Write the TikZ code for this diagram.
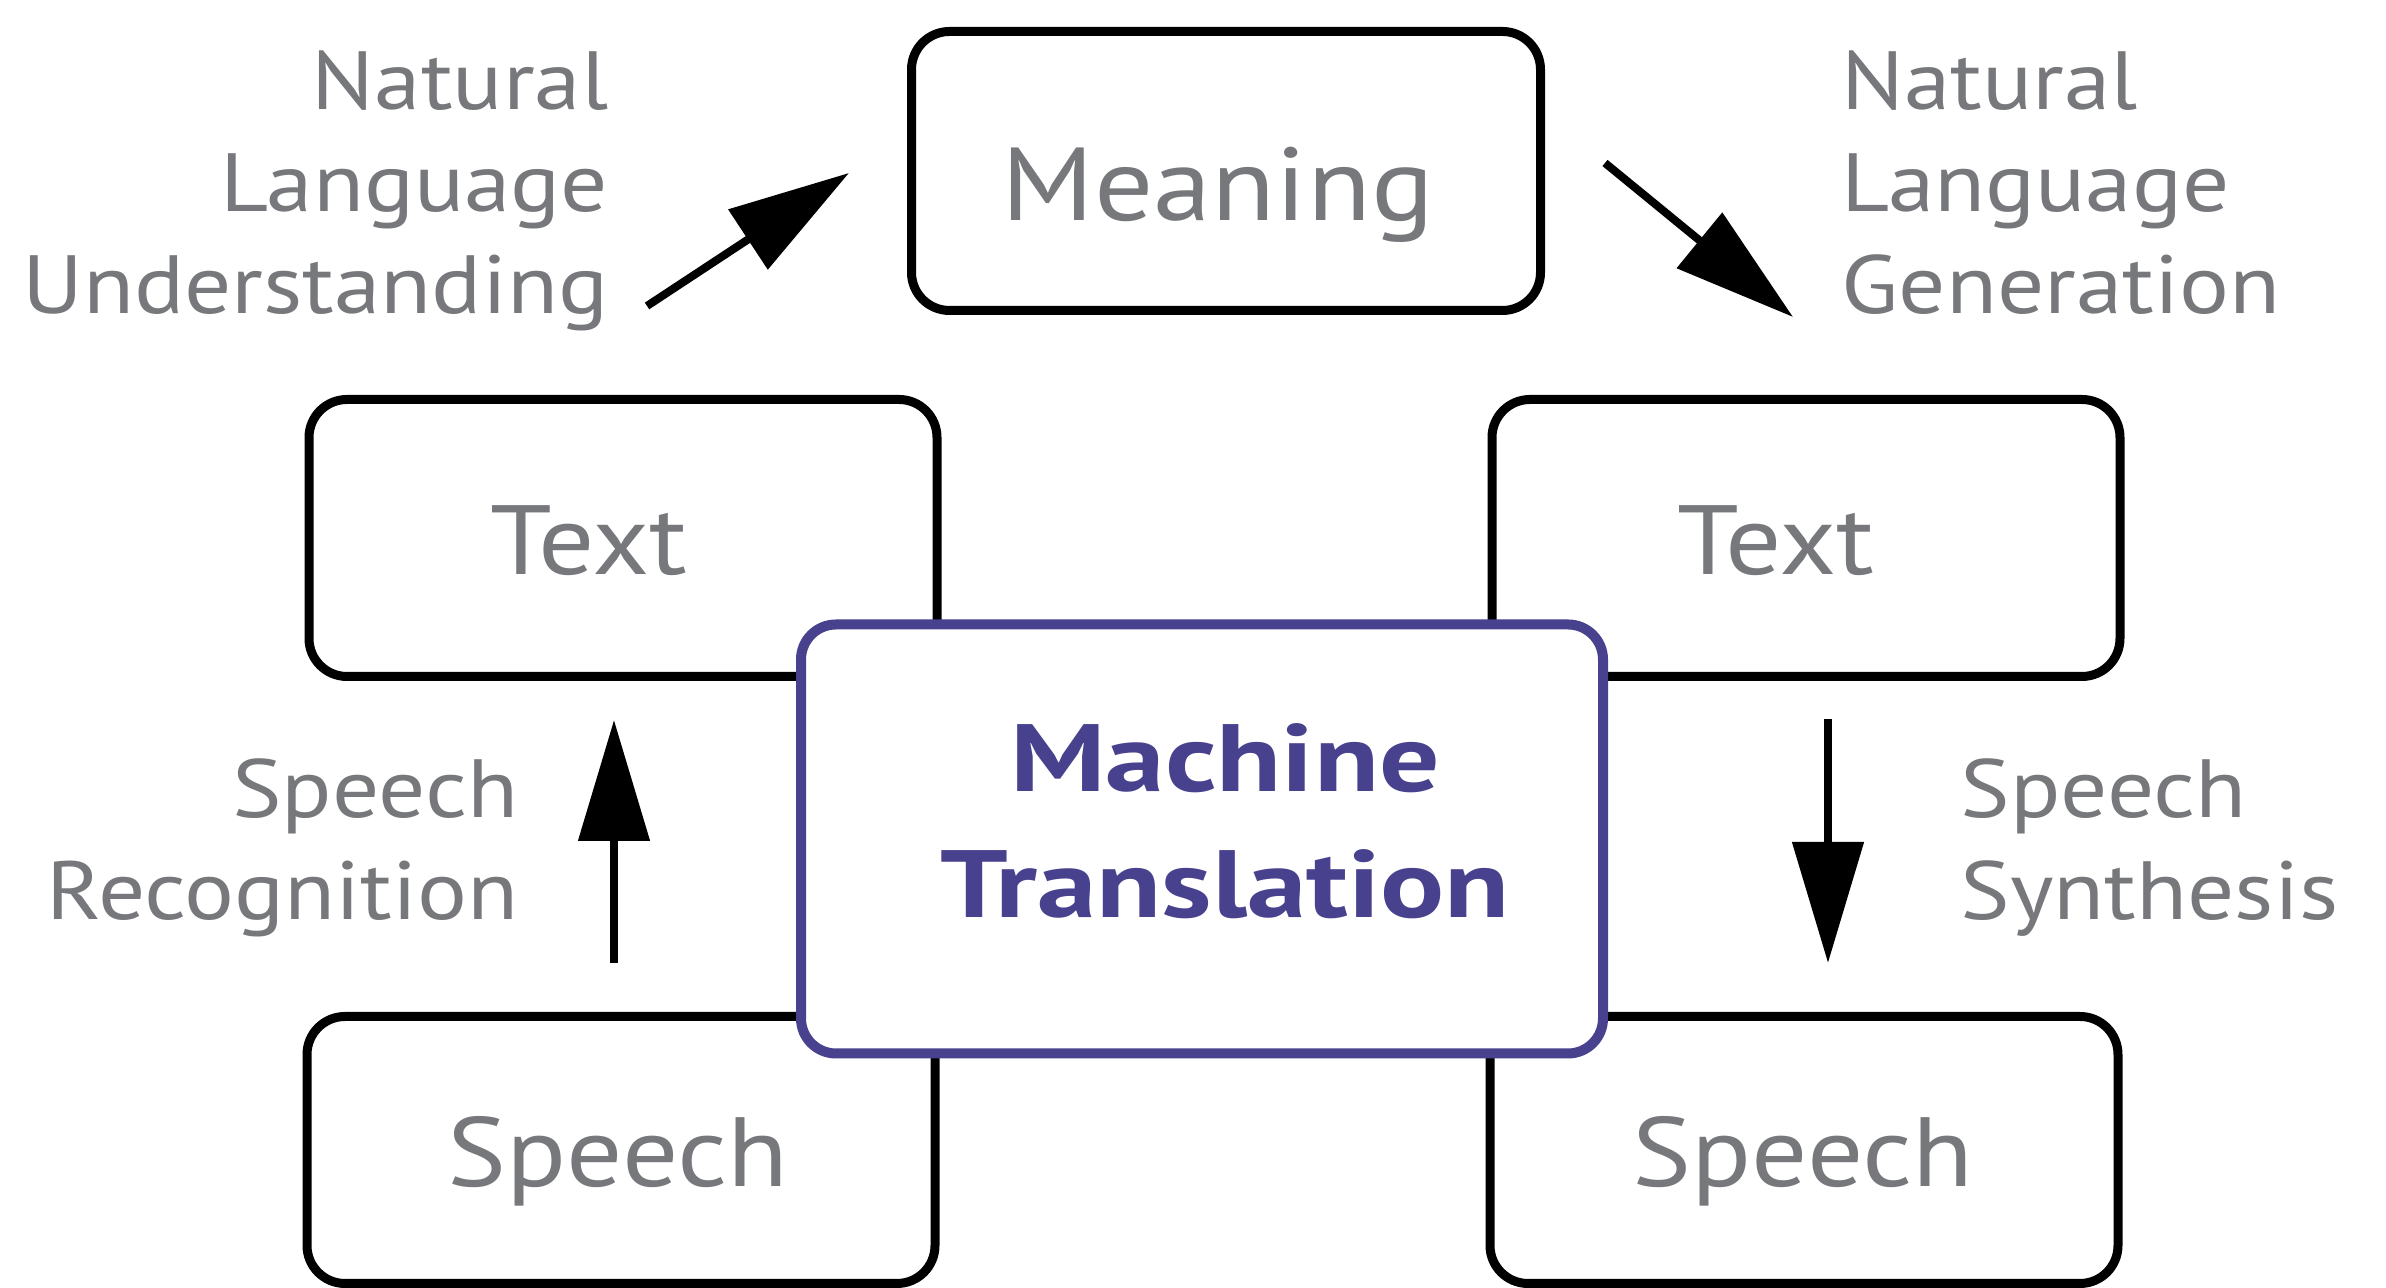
\documentclass[tikz,border=0pt]{standalone}
\usepackage{fontspec}
\setmainfont{PT Sans}[FakeStretch=1.13]
\newfontfamily\mtfont{PT Sans}[FakeStretch=1.25]
\usepackage{tikz}
\usetikzlibrary{arrows.meta, positioning}
\definecolor{mtGray}{HTML}{77787B}
\definecolor{mtPurple}{HTML}{48418D}

\begin{document}
\begin{tikzpicture}[
    box/.style={draw=black, line width=0.09cm, rounded corners=0.38cm, fill=white, minimum width=6.28cm, minimum height=2.77cm, inner sep=0pt},
    mtbox/.style={draw=mtPurple, line width=0.10cm, rounded corners=0.35cm, fill=white, minimum width=8.02cm, minimum height=4.29cm, inner sep=0pt},
    word/.style={anchor=base, inner sep=0pt, text=mtGray, font=\fontsize{28}{34}\selectfont},
    mtword/.style={inner sep=0pt, align=center, text=mtPurple, font=\mtfont\bfseries\fontsize{27.2}{36}\selectfont},
    lbl/.style={inner sep=0pt, text=mtGray, font=\fontsize{23.5}{29}\selectfont},
    flow/.style={-{Triangle[length=1.21cm, width=0.70cm]}, line width=0.08cm}]

  \useasboundingbox (0,0) rectangle (23.86,12.88);

  \node[box, minimum width=6.29cm, minimum height=2.79cm] (mean) at (12.26,11.17) {};
  \node[box] (txtl) at (6.23,7.50) {};
  \node[box] (txtr) at (18.06,7.50) {};
  \node[box, minimum height=2.67cm] (spl) at (6.21,1.38) {};
  \node[box, minimum height=2.67cm] (spr) at (18.04,1.38) {};
  \node[mtbox] (mt) at (12.02,4.49) {};

  \node[word, font=\fontsize{29.5}{35}\selectfont] (meanw) at (12.18,10.67) {Meaning};
  \node[word] (txtlw) at (5.89,7.13) {Text};
  \node[word] (txtrw) at (17.76,7.13) {Text};
  \node[word] (splw) at (6.18,1.01) {Speech};
  \node[word] (sprw) at (18.03,1.01) {Speech};
  \node[mtword] (mtw) at (12.25,4.67) {Machine\\Translation};

  \node[lbl, anchor=north east, align=right] (nlu) at (6.09,12.38) {Natural\\Language\\Understanding};
  \node[lbl, anchor=north west, align=left] (nlg) at (18.41,12.38) {Natural\\Language\\Generation};
  \node[lbl, anchor=north east, align=right] (sr) at (5.19,5.30) {Speech\\Recognition};
  \node[lbl, anchor=north west, align=left] (ss) at (19.60,5.30) {Speech\\Synthesis};

  \coordinate (nlu0) at (6.47,9.82);
  \coordinate (nlu1) at (8.49,11.15);
  \coordinate (nlg0) at (16.05,11.25);
  \coordinate (nlg1) at (17.93,9.71);
  \coordinate (sr0) at (6.14,3.25);
  \coordinate (sr1) at (6.14,5.68);
  \coordinate (ss0) at (18.28,5.69);
  \coordinate (ss1) at (18.28,3.25);

  \foreach \a/\b in {nlu0/nlu1,nlg0/nlg1,sr0/sr1,ss0/ss1} {
    \draw[flow] (\a) -- (\b);
  }
\end{tikzpicture}
\end{document}
